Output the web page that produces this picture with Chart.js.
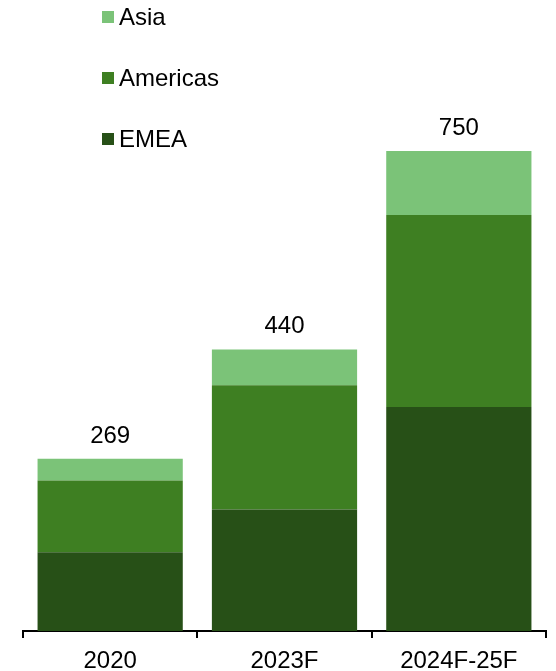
<!DOCTYPE html>
<html>
<head>
<meta charset="utf-8">
<script src="https://cdn.jsdelivr.net/npm/chart.js@4/dist/chart.umd.min.js"></script>
<style>
  html, body { margin: 0; padding: 0; background: #fff; }
  #wrap { width: 556px; height: 671px; }
</style>
</head>
<body>
<div id="wrap"><canvas id="chart" width="556" height="671"></canvas></div>
<script>
// ── data ──
const categories = ['2020', '2023F', '2024F-25F'];
const emea      = [123, 190, 350];
const americas  = [112, 194, 300];
const asia      = [34, 56, 100];
const totals    = [269, 440, 750];

const FONT = 'Arial, "Liberation Sans", sans-serif';
const COLORS = { asia: '#7bc378', americas: '#3e7f22', emea: '#275017' };

// totals above each stack
const totalLabels = {
  id: 'totalLabels',
  afterDatasetsDraw(chart) {
    const { ctx } = chart;
    const top = chart.getDatasetMeta(chart.data.datasets.length - 1);
    ctx.save();
    ctx.font = '24px ' + FONT;
    ctx.fillStyle = '#000';
    ctx.textAlign = 'center';
    ctx.textBaseline = 'alphabetic';
    top.data.forEach((bar, i) => {
      ctx.fillText(String(totals[i]), bar.x, bar.y - 16);
    });
    ctx.restore();
  }
};

// vertical legend top-left, Asia first
const sideLegend = {
  id: 'sideLegend',
  afterDraw(chart) {
    const { ctx } = chart;
    const items = chart.data.datasets.slice().reverse();
    ctx.save();
    ctx.font = '24px ' + FONT;
    ctx.textBaseline = 'middle';
    ctx.textAlign = 'left';
    items.forEach((ds, i) => {
      const cy = 17 + i * 61;
      ctx.fillStyle = ds.backgroundColor;
      ctx.fillRect(102, cy - 6, 12, 12);
      ctx.fillStyle = '#000';
      ctx.fillText(ds.label, 119, cy + 1);
    });
    ctx.restore();
  }
};

new Chart(document.getElementById('chart'), {
  type: 'bar',
  data: {
    labels: categories,
    datasets: [
      { label: 'EMEA',     data: emea,     backgroundColor: COLORS.emea },
      { label: 'Americas', data: americas, backgroundColor: COLORS.americas },
      { label: 'Asia',     data: asia,     backgroundColor: COLORS.asia }
    ]
  },
  options: {
    responsive: false,
    animation: false,
    devicePixelRatio: 1,
    layout: { padding: { top: 119, left: 23, right: 10, bottom: 0 } },
    datasets: { bar: { barPercentage: 0.833, categoryPercentage: 1, borderWidth: 0 } },
    plugins: { legend: { display: false }, tooltip: { enabled: false } },
    scales: {
      x: {
        stacked: true,
        afterFit: s => { s.height = 40; },
        border: { display: true, color: '#000', width: 2 },
        grid: { display: true, drawOnChartArea: false, drawTicks: true, tickLength: 7, color: '#000', lineWidth: 2, offset: true },
        ticks: { color: '#000', font: { size: 24, family: FONT }, padding: 9, maxRotation: 0 }
      },
      y: { stacked: true, display: false, min: 0, max: 800 }
    }
  },
  plugins: [totalLabels, sideLegend]
});
</script>
</body>
</html>
